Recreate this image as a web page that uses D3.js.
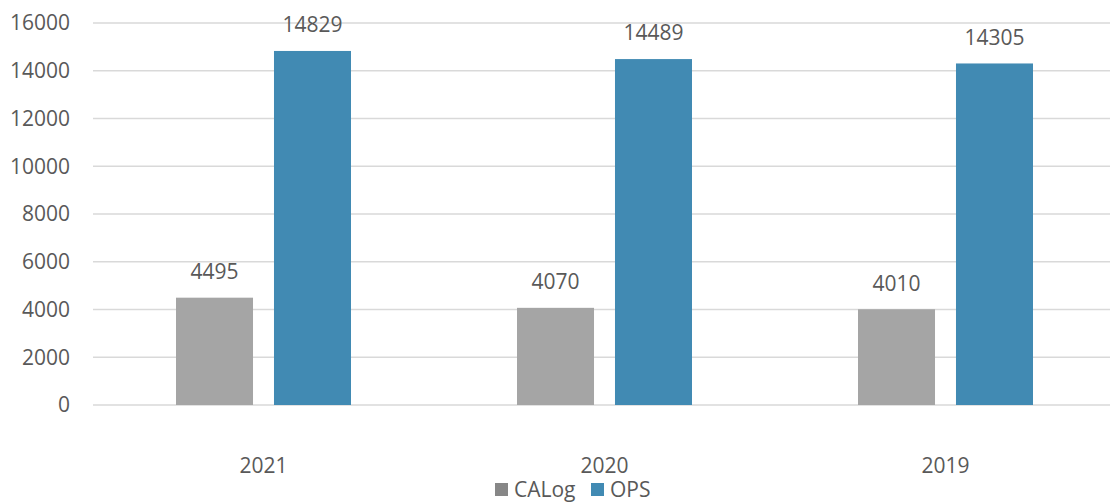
<!DOCTYPE html>
<html>
<head>
<meta charset="utf-8">
<script src="https://cdn.jsdelivr.net/npm/d3@7"></script>
<style>
  body { margin: 0; background: #fff; }
  text { font-family: "Open Sans", sans-serif; fill: #595959; }
</style>
</head>
<body>
<div id="chart"></div>
<script>
// donnees du graphique
var years = ["2021", "2020", "2019"];
var seriesNames = ["CALog", "OPS"];
var calogValues = [4495, 4070, 4010];
var opsValues = [14829, 14489, 14305];
var yTicks = [0, 2000, 4000, 6000, 8000, 10000, 12000, 14000, 16000];

var barColors = ["#a5a5a5", "#418ab3"];
var legendColors = ["#878787", "#418ab3"];

var width = 1110, height = 502;
var margin = {top: 23, right: -6, bottom: 97, left: 93};

var svg = d3.select("#chart").append("svg")
    .attr("width", width)
    .attr("height", height);

var x = d3.scaleBand()
    .domain(years)
    .range([margin.left, width - margin.right]);

var xInner = d3.scaleBand()
    .domain(seriesNames)
    .range([83, x.bandwidth() - 83])
    .paddingInner(0.214);

var y = d3.scaleLinear()
    .domain([0, 16000])
    .range([height - margin.bottom, margin.top]);

// lignes de grille
svg.append("g")
    .selectAll("line")
    .data(yTicks)
    .enter()
    .append("line")
    .attr("x1", margin.left)
    .attr("x2", width)
    .attr("y1", function(d) { return y(d); })
    .attr("y2", function(d) { return y(d); })
    .attr("stroke", "#d9d9d9")
    .attr("stroke-width", 1.5);

// labels axe y
svg.append("g")
    .selectAll("text")
    .data(yTicks)
    .enter()
    .append("text")
    .attr("x", 70)
    .attr("y", function(d) { return y(d); })
    .attr("dy", "0.35em")
    .attr("text-anchor", "end")
    .style("font-size", "21px")
    .text(function(d) { return d; });

// labels axe x
svg.append("g")
    .selectAll("text")
    .data(years)
    .enter()
    .append("text")
    .attr("x", function(d) { return x(d) + x.bandwidth() / 2; })
    .attr("y", 466)
    .attr("dy", "0.35em")
    .attr("text-anchor", "middle")
    .style("font-size", "21px")
    .text(function(d) { return d; });

var rows = years.map(function(yr, i) {
    return {year: yr, values: [
        {name: seriesNames[0], value: calogValues[i]},
        {name: seriesNames[1], value: opsValues[i]}
    ]};
});

var groups = svg.append("g")
    .selectAll("g")
    .data(rows)
    .enter()
    .append("g")
    .attr("transform", function(d) { return "translate(" + x(d.year) + ",0)"; });

// barres
groups.selectAll("rect")
    .data(function(d) { return d.values; })
    .enter()
    .append("rect")
    .attr("x", function(d) { return xInner(d.name); })
    .attr("width", xInner.bandwidth())
    .attr("y", function(d) { return y(d.value); })
    .attr("height", function(d) { return y(0) - y(d.value); })
    .attr("fill", function(d, i) { return barColors[i]; });

// valeurs au dessus des barres
groups.selectAll("text")
    .data(function(d) { return d.values; })
    .enter()
    .append("text")
    .attr("x", function(d) { return xInner(d.name) + xInner.bandwidth() / 2; })
    .attr("y", function(d) { return y(d.value) - 26; })
    .attr("dy", "0.35em")
    .attr("text-anchor", "middle")
    .style("font-size", "21px")
    .text(function(d) { return d.value; });

// legende
var legendX = [495, 591];
var legend = svg.append("g")
    .selectAll("g")
    .data(seriesNames)
    .enter()
    .append("g")
    .attr("transform", function(d, i) { return "translate(" + legendX[i] + ",483)"; });

legend.append("rect")
    .attr("width", 13)
    .attr("height", 13)
    .attr("fill", function(d, i) { return legendColors[i]; });

legend.append("text")
    .attr("x", 19)
    .attr("y", 7)
    .attr("dy", "0.35em")
    .style("font-size", "21px")
    .text(function(d) { return d; });
</script>
</body>
</html>
